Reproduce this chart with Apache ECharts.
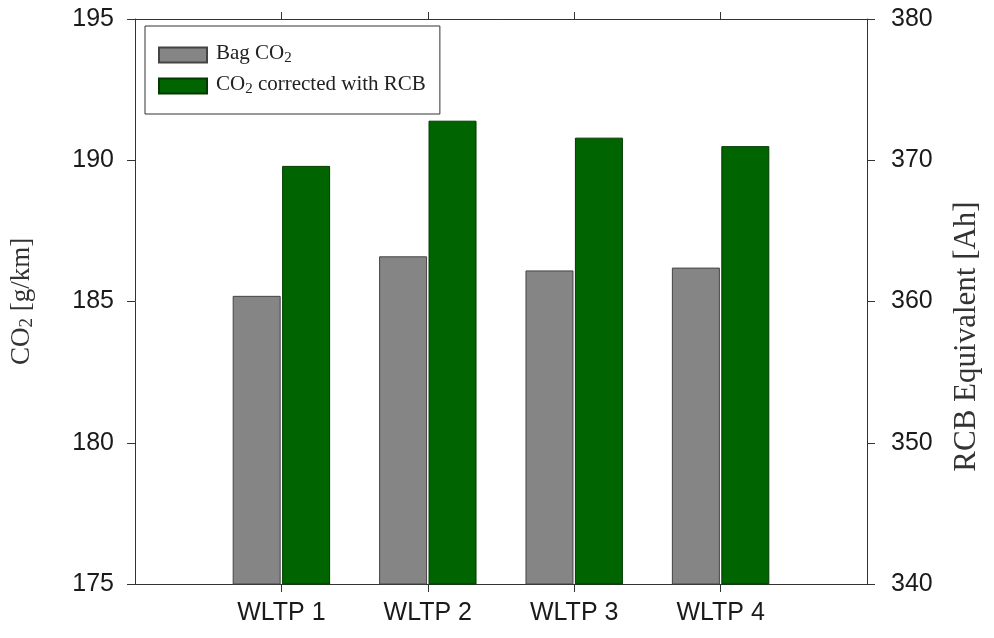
<!DOCTYPE html>
<html>
<head>
<meta charset="utf-8">
<script src="https://cdn.jsdelivr.net/npm/echarts@6/dist/echarts.min.js"></script>
<style>html,body{margin:0;padding:0;background:#fff}#c{width:994px;height:638px}</style>
</head>
<body>
<div id="c"></div>
<script>
var categories = ['WLTP 1', 'WLTP 2', 'WLTP 3', 'WLTP 4'];
var bagCO2 = [185.2, 186.6, 186.1, 186.2];
var co2RCB = [189.8, 191.4, 190.8, 190.5];
var leftTicks = [175, 180, 185, 190, 195];
var rightTicks = [340, 350, 360, 370, 380];

var chart = echarts.init(document.getElementById('c'));
var serif = '"Liberation Serif", "DejaVu Serif", serif';
var sans = '"Liberation Sans", Arial, sans-serif';
var catPos = categories.map(function (c, i) { return i + 1; });

function pts(vals) { return vals.map(function (v, i) { return [catPos[i], v]; }); }

var richName = {
  t: { fontFamily: serif, fontSize: 27, color: '#333', lineHeight: 30, verticalAlign: 'top' },
  s: { fontFamily: serif, fontSize: 19, color: '#333', lineHeight: 22, padding: [10, 0, 0, 0], verticalAlign: 'top' }
};
var richLeg = {
  t: { fontFamily: serif, fontSize: 21, color: '#222', lineHeight: 24, verticalAlign: 'top' },
  s: { fontFamily: serif, fontSize: 15, color: '#222', lineHeight: 20, padding: [8, 0, 0, 0], verticalAlign: 'top' }
};
var lineStyle = { color: '#333', width: 1 };

chart.setOption({
  animation: false,
  backgroundColor: '#fff',
  grid: { left: 134, right: 127, top: 19, bottom: 54 },
  legend: {
    orient: 'vertical',
    left: 145, top: 26,
    padding: [17, 14, 17, 13],
    itemGap: 8,
    itemWidth: 48, itemHeight: 15,
    borderColor: '#333', borderWidth: 1,
    icon: 'rect',
    data: ['Bag CO2', 'CO2 corrected with RCB'],
    formatter: function (name) {
      return name === 'Bag CO2' ? '{t|Bag CO}{s|2}' : '{t|CO}{s|2}{t| corrected with RCB}';
    },
    textStyle: { rich: richLeg, padding: [0, 0, 0, 4] }
  },
  xAxis: [{
    type: 'value', min: 0, max: 5, interval: 1, position: 'bottom',
    axisLine: { show: true, onZero: false, lineStyle: lineStyle },
    axisTick: { show: true, inside: false, length: 8, lineStyle: lineStyle, customValues: catPos },
    axisLabel: {
      fontFamily: sans, fontSize: 25, color: '#1a1a1a', margin: 17,
      customValues: catPos,
      formatter: function (v) { return categories[Math.round(v) - 1] || ''; }
    },
    splitLine: { show: false }
  }, {
    type: 'value', min: 0, max: 5, interval: 1, position: 'top',
    axisLine: { show: true, onZero: false, lineStyle: lineStyle },
    axisTick: { show: true, inside: false, length: 7, lineStyle: lineStyle, customValues: catPos },
    axisLabel: { show: false },
    splitLine: { show: false }
  }],
  yAxis: [{
    type: 'value', min: leftTicks[0], max: leftTicks[leftTicks.length - 1], interval: 5,
    position: 'left',
    name: '{t|CO}{s|2}{t| [g/km]}',
    nameLocation: 'middle', nameRotate: 90, nameGap: 97,
    nameTextStyle: { rich: richName },
    axisLine: { show: true, onZero: false, lineStyle: lineStyle },
    axisTick: { show: true, inside: false, length: 8, lineStyle: lineStyle },
    axisLabel: { fontFamily: sans, fontSize: 25, color: '#1a1a1a', margin: 21 },
    splitLine: { show: false }
  }, {
    type: 'value', min: rightTicks[0], max: rightTicks[rightTicks.length - 1], interval: 10,
    position: 'right',
    name: 'RCB Equivalent [Ah]',
    nameLocation: 'middle', nameRotate: 90, nameGap: 84,
    nameTextStyle: { fontFamily: serif, fontSize: 31, color: '#333', padding: [0, 70, 0, 0] },
    axisLine: { show: true, onZero: false, lineStyle: lineStyle },
    axisTick: { show: true, inside: false, length: 8, lineStyle: lineStyle },
    axisLabel: { fontFamily: sans, fontSize: 25, color: '#1a1a1a', margin: 24 },
    splitLine: { show: false }
  }],
  series: [{
    name: 'Bag CO2', type: 'bar', xAxisIndex: 0, yAxisIndex: 0,
    barWidth: 48, barGap: '3%',
    itemStyle: { color: '#858585', borderColor: '#444', borderWidth: 1 },
    data: pts(bagCO2)
  }, {
    name: 'CO2 corrected with RCB', type: 'bar', xAxisIndex: 0, yAxisIndex: 0,
    barWidth: 48, barGap: '3%',
    itemStyle: { color: '#006400', borderColor: '#003a00', borderWidth: 1 },
    data: pts(co2RCB)
  }]
});
</script>
</body>
</html>
